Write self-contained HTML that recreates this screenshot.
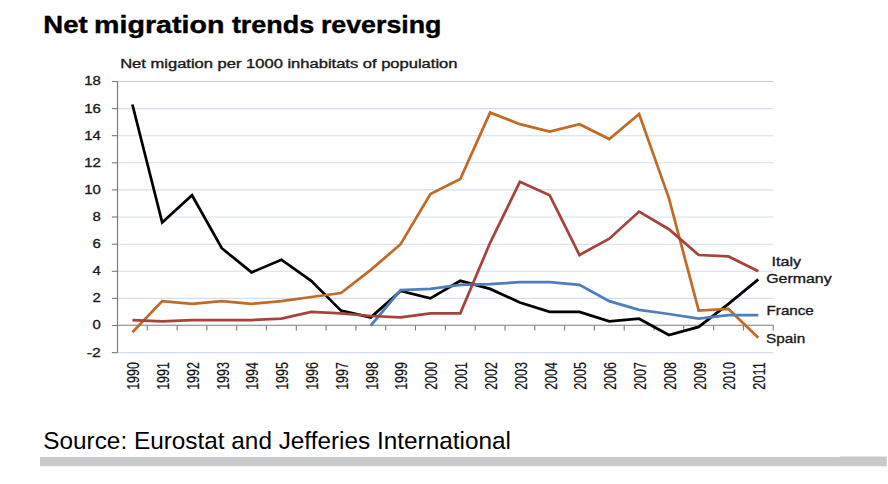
<!DOCTYPE html>
<html><head><meta charset="utf-8"><style>
html,body{margin:0;padding:0;background:#fff;}
body{width:888px;height:484px;overflow:hidden;position:relative;}
svg{position:absolute;left:0;top:0;font-family:"Liberation Sans", sans-serif;}
</style></head><body>
<svg width="888" height="484" viewBox="0 0 888 484">
<text x="43.3" y="32.6" font-size="24" font-weight="bold" fill="#000" stroke="#000" stroke-width="0.4" textLength="44.3" lengthAdjust="spacingAndGlyphs">Net</text>
<text x="94.0" y="32.6" font-size="24" font-weight="bold" fill="#000" stroke="#000" stroke-width="0.4" textLength="130.4" lengthAdjust="spacingAndGlyphs">migration</text>
<text x="231.9" y="32.6" font-size="24" font-weight="bold" fill="#000" stroke="#000" stroke-width="0.4" textLength="82.4" lengthAdjust="spacingAndGlyphs">trends</text>
<text x="320.9" y="32.6" font-size="24" font-weight="bold" fill="#000" stroke="#000" stroke-width="0.4" textLength="120.6" lengthAdjust="spacingAndGlyphs">reversing</text>
<text x="120.2" y="68" font-size="12" fill="#1a1a1a" stroke="#1a1a1a" stroke-width="0.35" textLength="337.3" lengthAdjust="spacingAndGlyphs">Net migation per 1000 inhabitats of population</text>
<line x1="117.5" y1="352.6" x2="773.2" y2="352.6" stroke="#d3ddef" stroke-width="1.1"/>
<line x1="117.5" y1="298.4" x2="773.2" y2="298.4" stroke="#d3ddef" stroke-width="1.1"/>
<line x1="117.5" y1="271.3" x2="773.2" y2="271.3" stroke="#d3ddef" stroke-width="1.1"/>
<line x1="117.5" y1="244.2" x2="773.2" y2="244.2" stroke="#d3ddef" stroke-width="1.1"/>
<line x1="117.5" y1="217.0" x2="773.2" y2="217.0" stroke="#d3ddef" stroke-width="1.1"/>
<line x1="117.5" y1="189.9" x2="773.2" y2="189.9" stroke="#d3ddef" stroke-width="1.1"/>
<line x1="117.5" y1="162.8" x2="773.2" y2="162.8" stroke="#d3ddef" stroke-width="1.1"/>
<line x1="117.5" y1="135.7" x2="773.2" y2="135.7" stroke="#d3ddef" stroke-width="1.1"/>
<line x1="117.5" y1="108.6" x2="773.2" y2="108.6" stroke="#d3ddef" stroke-width="1.1"/>
<line x1="117.5" y1="81.5" x2="773.2" y2="81.5" stroke="#b9cbe6" stroke-width="1.1"/>
<line x1="117.5" y1="81.5" x2="117.5" y2="352.6" stroke="#7c7c7c" stroke-width="1.2"/>
<line x1="111.8" y1="352.6" x2="117.5" y2="352.6" stroke="#7c7c7c" stroke-width="1.1"/>
<line x1="111.8" y1="325.5" x2="117.5" y2="325.5" stroke="#7c7c7c" stroke-width="1.1"/>
<line x1="111.8" y1="298.4" x2="117.5" y2="298.4" stroke="#7c7c7c" stroke-width="1.1"/>
<line x1="111.8" y1="271.3" x2="117.5" y2="271.3" stroke="#7c7c7c" stroke-width="1.1"/>
<line x1="111.8" y1="244.2" x2="117.5" y2="244.2" stroke="#7c7c7c" stroke-width="1.1"/>
<line x1="111.8" y1="217.0" x2="117.5" y2="217.0" stroke="#7c7c7c" stroke-width="1.1"/>
<line x1="111.8" y1="189.9" x2="117.5" y2="189.9" stroke="#7c7c7c" stroke-width="1.1"/>
<line x1="111.8" y1="162.8" x2="117.5" y2="162.8" stroke="#7c7c7c" stroke-width="1.1"/>
<line x1="111.8" y1="135.7" x2="117.5" y2="135.7" stroke="#7c7c7c" stroke-width="1.1"/>
<line x1="111.8" y1="108.6" x2="117.5" y2="108.6" stroke="#7c7c7c" stroke-width="1.1"/>
<line x1="111.8" y1="81.5" x2="117.5" y2="81.5" stroke="#7c7c7c" stroke-width="1.1"/>
<line x1="117.0" y1="325.30" x2="773.7" y2="325.30" stroke="#7c7c7c" stroke-width="1.1"/>
<line x1="147.3" y1="325.5" x2="147.3" y2="330.5" stroke="#7c7c7c" stroke-width="1.1"/>
<line x1="177.1" y1="325.5" x2="177.1" y2="330.5" stroke="#7c7c7c" stroke-width="1.1"/>
<line x1="206.9" y1="325.5" x2="206.9" y2="330.5" stroke="#7c7c7c" stroke-width="1.1"/>
<line x1="236.7" y1="325.5" x2="236.7" y2="330.5" stroke="#7c7c7c" stroke-width="1.1"/>
<line x1="266.5" y1="325.5" x2="266.5" y2="330.5" stroke="#7c7c7c" stroke-width="1.1"/>
<line x1="296.3" y1="325.5" x2="296.3" y2="330.5" stroke="#7c7c7c" stroke-width="1.1"/>
<line x1="326.1" y1="325.5" x2="326.1" y2="330.5" stroke="#7c7c7c" stroke-width="1.1"/>
<line x1="355.9" y1="325.5" x2="355.9" y2="330.5" stroke="#7c7c7c" stroke-width="1.1"/>
<line x1="385.7" y1="325.5" x2="385.7" y2="330.5" stroke="#7c7c7c" stroke-width="1.1"/>
<line x1="415.5" y1="325.5" x2="415.5" y2="330.5" stroke="#7c7c7c" stroke-width="1.1"/>
<line x1="445.4" y1="325.5" x2="445.4" y2="330.5" stroke="#7c7c7c" stroke-width="1.1"/>
<line x1="475.2" y1="325.5" x2="475.2" y2="330.5" stroke="#7c7c7c" stroke-width="1.1"/>
<line x1="505.0" y1="325.5" x2="505.0" y2="330.5" stroke="#7c7c7c" stroke-width="1.1"/>
<line x1="534.8" y1="325.5" x2="534.8" y2="330.5" stroke="#7c7c7c" stroke-width="1.1"/>
<line x1="564.6" y1="325.5" x2="564.6" y2="330.5" stroke="#7c7c7c" stroke-width="1.1"/>
<line x1="594.4" y1="325.5" x2="594.4" y2="330.5" stroke="#7c7c7c" stroke-width="1.1"/>
<line x1="624.2" y1="325.5" x2="624.2" y2="330.5" stroke="#7c7c7c" stroke-width="1.1"/>
<line x1="654.0" y1="325.5" x2="654.0" y2="330.5" stroke="#7c7c7c" stroke-width="1.1"/>
<line x1="683.8" y1="325.5" x2="683.8" y2="330.5" stroke="#7c7c7c" stroke-width="1.1"/>
<line x1="713.6" y1="325.5" x2="713.6" y2="330.5" stroke="#7c7c7c" stroke-width="1.1"/>
<line x1="743.4" y1="325.5" x2="743.4" y2="330.5" stroke="#7c7c7c" stroke-width="1.1"/>
<line x1="773.2" y1="325.5" x2="773.2" y2="330.5" stroke="#7c7c7c" stroke-width="1.1"/>
<text x="100.8" y="356.5" text-anchor="end" font-size="13.3" fill="#1a1a1a" stroke="#1a1a1a" stroke-width="0.35" textLength="14.0" lengthAdjust="spacingAndGlyphs">-2</text>
<text x="100.8" y="329.4" text-anchor="end" font-size="13.3" fill="#1a1a1a" stroke="#1a1a1a" stroke-width="0.35" textLength="8.3" lengthAdjust="spacingAndGlyphs">0</text>
<text x="100.8" y="302.3" text-anchor="end" font-size="13.3" fill="#1a1a1a" stroke="#1a1a1a" stroke-width="0.35" textLength="8.3" lengthAdjust="spacingAndGlyphs">2</text>
<text x="100.8" y="275.2" text-anchor="end" font-size="13.3" fill="#1a1a1a" stroke="#1a1a1a" stroke-width="0.35" textLength="8.3" lengthAdjust="spacingAndGlyphs">4</text>
<text x="100.8" y="248.1" text-anchor="end" font-size="13.3" fill="#1a1a1a" stroke="#1a1a1a" stroke-width="0.35" textLength="8.3" lengthAdjust="spacingAndGlyphs">6</text>
<text x="100.8" y="220.9" text-anchor="end" font-size="13.3" fill="#1a1a1a" stroke="#1a1a1a" stroke-width="0.35" textLength="8.3" lengthAdjust="spacingAndGlyphs">8</text>
<text x="100.8" y="193.8" text-anchor="end" font-size="13.3" fill="#1a1a1a" stroke="#1a1a1a" stroke-width="0.35" textLength="16.6" lengthAdjust="spacingAndGlyphs">10</text>
<text x="100.8" y="166.7" text-anchor="end" font-size="13.3" fill="#1a1a1a" stroke="#1a1a1a" stroke-width="0.35" textLength="16.6" lengthAdjust="spacingAndGlyphs">12</text>
<text x="100.8" y="139.6" text-anchor="end" font-size="13.3" fill="#1a1a1a" stroke="#1a1a1a" stroke-width="0.35" textLength="16.6" lengthAdjust="spacingAndGlyphs">14</text>
<text x="100.8" y="112.5" text-anchor="end" font-size="13.3" fill="#1a1a1a" stroke="#1a1a1a" stroke-width="0.35" textLength="16.6" lengthAdjust="spacingAndGlyphs">16</text>
<text x="100.8" y="85.4" text-anchor="end" font-size="13.3" fill="#1a1a1a" stroke="#1a1a1a" stroke-width="0.35" textLength="16.6" lengthAdjust="spacingAndGlyphs">18</text>
<text transform="translate(139.2 389.8) rotate(-90)" font-size="16" fill="#111" stroke="#111" stroke-width="0.2" textLength="27.6" lengthAdjust="spacingAndGlyphs">1990</text>
<text transform="translate(169.0 389.8) rotate(-90)" font-size="16" fill="#111" stroke="#111" stroke-width="0.2" textLength="27.6" lengthAdjust="spacingAndGlyphs">1991</text>
<text transform="translate(198.8 389.8) rotate(-90)" font-size="16" fill="#111" stroke="#111" stroke-width="0.2" textLength="27.6" lengthAdjust="spacingAndGlyphs">1992</text>
<text transform="translate(228.6 389.8) rotate(-90)" font-size="16" fill="#111" stroke="#111" stroke-width="0.2" textLength="27.6" lengthAdjust="spacingAndGlyphs">1993</text>
<text transform="translate(258.4 389.8) rotate(-90)" font-size="16" fill="#111" stroke="#111" stroke-width="0.2" textLength="27.6" lengthAdjust="spacingAndGlyphs">1994</text>
<text transform="translate(288.2 389.8) rotate(-90)" font-size="16" fill="#111" stroke="#111" stroke-width="0.2" textLength="27.6" lengthAdjust="spacingAndGlyphs">1995</text>
<text transform="translate(318.0 389.8) rotate(-90)" font-size="16" fill="#111" stroke="#111" stroke-width="0.2" textLength="27.6" lengthAdjust="spacingAndGlyphs">1996</text>
<text transform="translate(347.8 389.8) rotate(-90)" font-size="16" fill="#111" stroke="#111" stroke-width="0.2" textLength="27.6" lengthAdjust="spacingAndGlyphs">1997</text>
<text transform="translate(377.6 389.8) rotate(-90)" font-size="16" fill="#111" stroke="#111" stroke-width="0.2" textLength="27.6" lengthAdjust="spacingAndGlyphs">1998</text>
<text transform="translate(407.4 389.8) rotate(-90)" font-size="16" fill="#111" stroke="#111" stroke-width="0.2" textLength="27.6" lengthAdjust="spacingAndGlyphs">1999</text>
<text transform="translate(437.2 389.8) rotate(-90)" font-size="16" fill="#111" stroke="#111" stroke-width="0.2" textLength="27.6" lengthAdjust="spacingAndGlyphs">2000</text>
<text transform="translate(467.1 389.8) rotate(-90)" font-size="16" fill="#111" stroke="#111" stroke-width="0.2" textLength="27.6" lengthAdjust="spacingAndGlyphs">2001</text>
<text transform="translate(496.9 389.8) rotate(-90)" font-size="16" fill="#111" stroke="#111" stroke-width="0.2" textLength="27.6" lengthAdjust="spacingAndGlyphs">2002</text>
<text transform="translate(526.7 389.8) rotate(-90)" font-size="16" fill="#111" stroke="#111" stroke-width="0.2" textLength="27.6" lengthAdjust="spacingAndGlyphs">2003</text>
<text transform="translate(556.5 389.8) rotate(-90)" font-size="16" fill="#111" stroke="#111" stroke-width="0.2" textLength="27.6" lengthAdjust="spacingAndGlyphs">2004</text>
<text transform="translate(586.3 389.8) rotate(-90)" font-size="16" fill="#111" stroke="#111" stroke-width="0.2" textLength="27.6" lengthAdjust="spacingAndGlyphs">2005</text>
<text transform="translate(616.1 389.8) rotate(-90)" font-size="16" fill="#111" stroke="#111" stroke-width="0.2" textLength="27.6" lengthAdjust="spacingAndGlyphs">2006</text>
<text transform="translate(645.9 389.8) rotate(-90)" font-size="16" fill="#111" stroke="#111" stroke-width="0.2" textLength="27.6" lengthAdjust="spacingAndGlyphs">2007</text>
<text transform="translate(675.7 389.8) rotate(-90)" font-size="16" fill="#111" stroke="#111" stroke-width="0.2" textLength="27.6" lengthAdjust="spacingAndGlyphs">2008</text>
<text transform="translate(705.5 389.8) rotate(-90)" font-size="16" fill="#111" stroke="#111" stroke-width="0.2" textLength="27.6" lengthAdjust="spacingAndGlyphs">2009</text>
<text transform="translate(735.3 389.8) rotate(-90)" font-size="16" fill="#111" stroke="#111" stroke-width="0.2" textLength="27.6" lengthAdjust="spacingAndGlyphs">2010</text>
<text transform="translate(765.1 389.8) rotate(-90)" font-size="16" fill="#111" stroke="#111" stroke-width="0.2" textLength="27.6" lengthAdjust="spacingAndGlyphs">2011</text>
<path d="M132.4 104.5 L162.2 222.5 L192.0 195.3 L221.8 248.2 L251.6 272.4 L281.4 259.7 L311.2 280.8 L341.0 310.6 L370.8 317.4 L400.6 290.9 L430.4 298.4 L460.3 280.8 L490.1 288.9 L519.9 302.5 L549.7 311.9 L579.5 311.9 L609.3 321.4 L639.1 318.7 L668.9 335.0 L698.7 326.9 L728.5 303.8 L758.3 279.4" fill="none" stroke="#000" stroke-width="2.75" stroke-linejoin="miter"/>
<path d="M132.4 332.3 L162.2 301.1 L192.0 303.8 L221.8 301.1 L251.6 303.8 L281.4 301.1 L311.2 297.0 L341.0 293.0 L370.8 269.9 L400.6 244.2 L430.4 194.0 L460.3 179.1 L490.1 112.6 L519.9 124.2 L549.7 131.6 L579.5 124.2 L609.3 139.1 L639.1 114.0 L668.9 198.1 L698.7 310.6 L728.5 309.0 L758.3 337.7" fill="none" stroke="#c26a28" stroke-width="2.75" stroke-linejoin="miter"/>
<path d="M370.8 325.5 L400.6 290.2 L430.4 288.9 L460.3 284.8 L490.1 284.1 L519.9 282.1 L549.7 282.1 L579.5 284.8 L609.3 301.1 L639.1 309.9 L668.9 314.0 L698.7 318.7 L728.5 315.1 L758.3 315.1" fill="none" stroke="#4f7fbb" stroke-width="2.75" stroke-linejoin="miter"/>
<path d="M132.4 320.1 L162.2 321.4 L192.0 320.1 L221.8 320.1 L251.6 320.1 L281.4 318.7 L311.2 311.9 L341.0 313.3 L370.8 316.0 L400.6 317.4 L430.4 313.3 L460.3 313.3 L490.1 242.8 L519.9 181.8 L549.7 195.3 L579.5 255.0 L609.3 238.7 L639.1 211.6 L668.9 229.2 L698.7 255.0 L728.5 256.4 L758.3 271.3" fill="none" stroke="#a8423d" stroke-width="2.75" stroke-linejoin="miter"/>
<text x="771.5" y="265.5" font-size="13.3" fill="#1a1a1a" stroke="#1a1a1a" stroke-width="0.35" textLength="29.5" lengthAdjust="spacingAndGlyphs">Italy</text>
<text x="766.2" y="283.3" font-size="13.3" fill="#1a1a1a" stroke="#1a1a1a" stroke-width="0.35" textLength="65.4" lengthAdjust="spacingAndGlyphs">Germany</text>
<text x="766.6" y="314.6" font-size="13.3" fill="#1a1a1a" stroke="#1a1a1a" stroke-width="0.35" textLength="47.2" lengthAdjust="spacingAndGlyphs">France</text>
<text x="766.0" y="342.8" font-size="13.3" fill="#1a1a1a" stroke="#1a1a1a" stroke-width="0.35" textLength="39.2" lengthAdjust="spacingAndGlyphs">Spain</text>
<text x="43.3" y="448.8" font-size="24.6" fill="#000" textLength="467.6" lengthAdjust="spacingAndGlyphs">Source: Eurostat and Jefferies International</text>
<rect x="40" y="457" width="846.8" height="9.3" fill="#c8c9cb"/>
<rect x="839.6" y="456.3" width="47.2" height="0.8" fill="#c8c9cb" opacity="0.7"/>
</svg>
</body></html>
